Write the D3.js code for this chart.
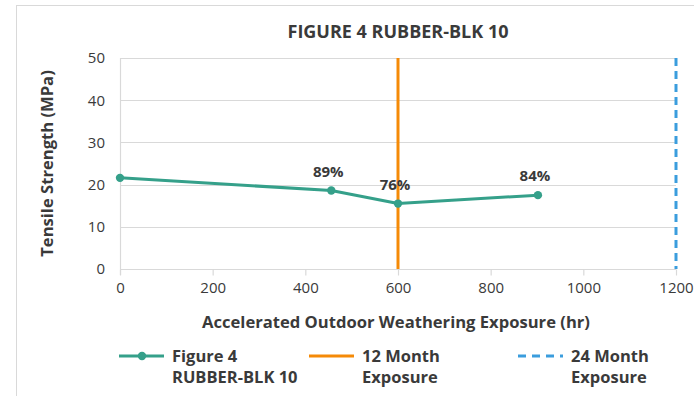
<!DOCTYPE html>
<html>
<head>
<meta charset="utf-8">
<script src="https://cdn.jsdelivr.net/npm/d3@7"></script>
<style>
  html, body { margin: 0; padding: 0; background: #fff; }
  svg { display: block; font-family: "Open Sans", "Noto Sans", sans-serif; }
</style>
</head>
<body>
<svg id="chart" width="694" height="396"></svg>
<script>
// Tensile strength after accelerated outdoor weathering
const exposureHours = [0, 456, 600, 902];
const tensileMPa = [21.6, 18.6, 15.5, 17.5];
const retentionLabels = ["", "89%", "76%", "84%"];
const markerLines = [
  { name: "12 Month Exposure", hours: 600 },
  { name: "24 Month Exposure", hours: 1200 }
];
const xTicks = [0, 200, 400, 600, 800, 1000, 1200];
const yTicks = [0, 10, 20, 30, 40, 50];

const teal = "#35a08a", orange = "#f58a07", blue = "#3b9ddd", ink = "#3a3a3a", grid = "#d9d9d9";
const fontFam = "'Open Sans', 'Noto Sans', sans-serif";

const svg = d3.select("#chart");

const x = d3.scaleLinear().domain([0, 1200]).range([120, 676]);
const y = d3.scaleLinear().domain([0, 50]).range([269, 58]);

// chart frame
svg.append("rect").attr("x", 16.5).attr("y", 5.5).attr("width", 700).attr("height", 420)
  .attr("fill", "none").attr("stroke", "#d9d9d9").attr("stroke-width", 1);

// title
svg.append("text").attr("x", 398).attr("y", 38).attr("text-anchor", "middle")
  .attr("font-size", 18).attr("font-weight", "bold").attr("fill", ink)
  .text("FIGURE 4 RUBBER-BLK 10");

// horizontal gridlines
svg.append("g").selectAll("line").data(yTicks).join("line")
  .attr("x1", x(0)).attr("x2", x(1200))
  .attr("y1", d => Math.round(y(d)) + 0.5).attr("y2", d => Math.round(y(d)) + 0.5)
  .attr("stroke", grid).attr("stroke-width", 1.2);

// y axis line
svg.append("line").attr("x1", x(0) + 0.5).attr("x2", x(0) + 0.5)
  .attr("y1", y(50)).attr("y2", y(0) + 6).attr("stroke", grid).attr("stroke-width", 1.2);

// x axis with ticks below baseline
const xAxis = d3.axisBottom(x).tickValues(xTicks).tickSize(6).tickPadding(7).tickFormat(d3.format("d"));
const gx = svg.append("g").attr("transform", `translate(0,${Math.round(y(0)) + 0.5})`).call(xAxis);
gx.select(".domain").remove();
gx.selectAll(".tick line").attr("stroke", grid).attr("stroke-width", 1.2);
gx.selectAll(".tick text").attr("font-size", 15).attr("fill", ink).attr("font-family", fontFam);

// y axis labels
const yAxis = d3.axisLeft(y).tickValues(yTicks).tickSize(0).tickPadding(15);
const gy = svg.append("g").attr("transform", `translate(${x(0)},0)`).call(yAxis);
gy.select(".domain").remove();
gy.selectAll(".tick text").attr("font-size", 15).attr("fill", ink).attr("font-family", fontFam);

// axis titles
svg.append("text").attr("x", 396).attr("y", 328).attr("text-anchor", "middle")
  .attr("font-size", 16.6).attr("font-weight", "bold").attr("fill", ink)
  .text("Accelerated Outdoor Weathering Exposure (hr)");
svg.append("text").attr("transform", `translate(53,${(y(0) + y(50)) / 2}) rotate(-90)`)
  .attr("text-anchor", "middle").attr("font-size", 16.6).attr("font-weight", "bold").attr("fill", ink)
  .text("Tensile Strength (MPa)");

// exposure reference lines
svg.append("line").attr("x1", x(markerLines[0].hours)).attr("x2", x(markerLines[0].hours))
  .attr("y1", y(50)).attr("y2", y(0)).attr("stroke", orange).attr("stroke-width", 3);
svg.append("line").attr("x1", x(markerLines[1].hours)).attr("x2", x(markerLines[1].hours))
  .attr("y1", y(50)).attr("y2", y(0)).attr("stroke", blue).attr("stroke-width", 3)
  .attr("stroke-dasharray", "8,5");

// series line and markers
const pts = exposureHours.map((h, i) => ({ h, v: tensileMPa[i], lab: retentionLabels[i] }));
svg.append("path").datum(pts)
  .attr("d", d3.line().x(d => x(d.h)).y(d => y(d.v)))
  .attr("fill", "none").attr("stroke", teal).attr("stroke-width", 3).attr("stroke-linejoin", "round");
svg.append("g").selectAll("circle").data(pts).join("circle")
  .attr("cx", d => x(d.h)).attr("cy", d => y(d.v)).attr("r", 4.2).attr("fill", teal);

// retention labels above points
svg.append("g").selectAll("text").data(pts.filter(d => d.lab)).join("text")
  .attr("x", d => x(d.h) - 3).attr("y", d => y(d.v) - 14)
  .attr("text-anchor", "middle").attr("font-size", 15).attr("font-weight", "bold").attr("fill", ink)
  .text(d => d.lab);

// legend
const legend = svg.append("g").attr("font-size", 16.5).attr("font-weight", "bold").attr("fill", ink);
const ly = 356;
legend.append("line").attr("x1", 119).attr("x2", 164).attr("y1", ly).attr("y2", ly)
  .attr("stroke", teal).attr("stroke-width", 3);
legend.append("circle").attr("cx", 142).attr("cy", ly).attr("r", 4.2).attr("fill", teal);
legend.append("text").attr("x", 172).attr("y", ly + 6).text("Figure 4");
legend.append("text").attr("x", 172).attr("y", ly + 27).text("RUBBER-BLK 10");

legend.append("line").attr("x1", 309).attr("x2", 354).attr("y1", ly).attr("y2", ly)
  .attr("stroke", orange).attr("stroke-width", 3);
legend.append("text").attr("x", 362).attr("y", ly + 6).text("12 Month");
legend.append("text").attr("x", 362).attr("y", ly + 27).text("Exposure");

legend.append("line").attr("x1", 518).attr("x2", 563).attr("y1", ly).attr("y2", ly)
  .attr("stroke", blue).attr("stroke-width", 3).attr("stroke-dasharray", "8,6");
legend.append("text").attr("x", 571).attr("y", ly + 6).text("24 Month");
legend.append("text").attr("x", 571).attr("y", ly + 27).text("Exposure");
</script>
</body>
</html>
